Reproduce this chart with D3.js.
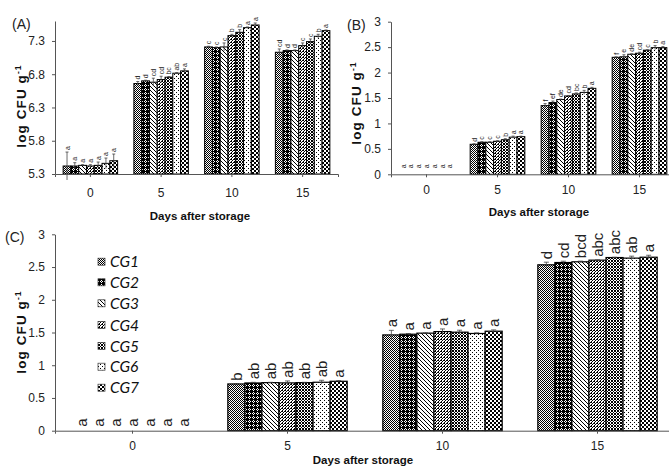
<!DOCTYPE html>
<html><head><meta charset="utf-8">
<script src="https://cdn.jsdelivr.net/npm/d3@7"></script>
<style>
body{margin:0;background:#fff;}
svg{display:block;font-family:"Liberation Sans",Arial,sans-serif;}
</style></head>
<body>
<svg id="chart" width="669" height="468"></svg>
<script>
const days = ["0","5","10","15"];
const groups = ["CG1","CG2","CG3","CG4","CG5","CG6","CG7"];

// Panel A values [day][group]
const valuesA = [
  [5.42,5.42,5.43,5.42,5.43,5.46,5.50],
  [6.66,6.70,6.68,6.72,6.755,6.815,6.85],
  [7.21,7.20,7.21,7.38,7.43,7.50,7.54],
  [7.13,7.155,7.155,7.23,7.29,7.37,7.455]
];
const errA = [
  [0.21,0.05,0.01,0.02,0.05,0.08,0.10],
  [0.03,0.01,0.06,0.05,0.01,0.01,0.03],
  [0.01,0.01,0.06,0.02,0.04,0.01,0.03],
  [0.05,0.01,0.01,0.04,0.04,0.03,0.01]
];
const lettersA = [
  ["a","a","a","a","a","a","a"],
  ["d","d","cd","cd","bc","ab","a"],
  ["c","c","c","b","b","a","a"],
  ["cd","d","d","c","c","b","a"]
];
const ticksA = [5.3,5.8,6.3,6.8,7.3];

// Panel B
const valuesB = [
  [0,0,0,0,0,0,0],
  [0.59,0.63,0.63,0.65,0.68,0.73,0.74],
  [1.35,1.41,1.47,1.54,1.58,1.61,1.69],
  [2.30,2.31,2.36,2.38,2.44,2.49,2.49]
];
const errB = [
  [0,0,0,0,0,0,0],
  [0.01,0.01,0.01,0.01,0.02,0.02,0.01],
  [0.04,0.03,0.01,0.01,0.02,0.04,0.02],
  [0.01,0.04,0.01,0.02,0.01,0.04,0.02]
];
const lettersB = [
  ["a","a","a","a","a","a","a"],
  ["d","c","c","c","b","a","a"],
  ["f","ef","de","cd","bc","b","a"],
  ["f","e","de","cd","c","b","a"]
];
const ticksB = [0,0.5,1,1.5,2,2.5,3];

// Panel C
const valuesC = [
  [0,0,0,0,0,0,0],
  [0.714,0.729,0.734,0.73,0.734,0.74,0.755],
  [1.463,1.474,1.49,1.514,1.505,1.485,1.52],
  [2.534,2.569,2.58,2.605,2.645,2.636,2.65]
];
const errC = [
  [0,0,0,0,0,0,0],
  [0.005,0.01,0.005,0.03,0.005,0.03,0.01],
  [0.07,0.01,0.005,0.04,0.03,0.01,0.02],
  [0.04,0.02,0.01,0.005,0.005,0.03,0.03]
];
const lettersC = [
  ["a","a","a","a","a","a","a"],
  ["b","ab","ab","ab","ab","ab","a"],
  ["a","a","a","a","a","a","a"],
  ["d","cd","bcd","abc","abc","ab","a"]
];
const ticksC = [0,0.5,1,1.5,2,2.5,3];

const xTitle = "Days after storage";

const svg = d3.select("#chart");
const defs = svg.append("defs");

function pat(id, w, h, draw){
  const p = defs.append("pattern").attr("id",id).attr("patternUnits","userSpaceOnUse")
    .attr("width",w).attr("height",h);
  p.append("rect").attr("width",w).attr("height",h).attr("fill","#fff");
  draw(p);
}
function px(p, x, y, w=1, h=1){ p.append("rect").attr("x",x).attr("y",y).attr("width",w).attr("height",h).attr("fill","#000"); }
// CG1 fine checker
pat("p0",2,2,p=>{px(p,0,0);px(p,1,1);});
// CG2 dark checker grid
pat("p1",4,4,p=>{px(p,0,0);px(p,2,0);px(p,1,1);px(p,0,2);px(p,2,2);px(p,1,3);px(p,3,0,1,4);px(p,0,3,4,1);});
// CG3 wide downward diagonal
pat("p2",4,4,p=>{px(p,0,0);px(p,1,1);px(p,2,2);px(p,3,3);});
// CG4 upward diagonal dense
pat("p3",3,3,p=>{px(p,2,0);px(p,1,1);px(p,0,2);px(p,0,0);});
// CG5 small grid
pat("p4",3,3,p=>{px(p,0,0);px(p,1,1);px(p,2,0);px(p,0,2);px(p,2,2,1,1);});
// CG6 sparse dots
pat("p5",4,4,p=>{px(p,0,0);px(p,2,2);});
// CG7 large confetti
pat("p6",4,4,p=>{px(p,0,0,2,2);px(p,2,2,2,2);});

function drawPanel(c){
  const g = svg.append("g");
  const x = d3.scaleBand().domain(days).range([c.x0,c.x1]).padding(0);
  const y = d3.scaleLinear().domain(c.domain).range([c.y0,c.y1]);
  const gw = x.bandwidth()*c.frac;
  const xi = d3.scaleBand().domain(groups).range([0,gw]).padding(0);

  days.forEach((d,di)=>{
    const gx = x(d) + (x.bandwidth()-gw)/2;
    groups.forEach((gr,gi)=>{
      const v = c.values[di][gi], e = c.errs[di][gi];
      const bx = gx + xi(gr), bw = xi.bandwidth();
      if (v > c.domain[0]) {
        g.append("rect").attr("x",bx).attr("y",y(v)).attr("width",bw).attr("height",y(c.domain[0])-y(v))
          .attr("fill",`url(#p${gi})`).attr("stroke","#000").attr("stroke-width",c.sw);
      }
      const cx = bx + bw/2;
      let top = y(v);
      if (e > 0) {
        const yt = y(v+e), yb = y(v-e);
        g.append("line").attr("x1",cx).attr("x2",cx).attr("y1",yb).attr("y2",yt).attr("stroke","#444").attr("stroke-width",0.8);
        g.append("line").attr("x1",cx-c.cap).attr("x2",cx+c.cap).attr("y1",yt).attr("y2",yt).attr("stroke","#444").attr("stroke-width",0.8);
        top = yt;
      }
      const ly = (v > c.domain[0]) ? top - c.gap : y(c.domain[0]) - c.gap0;
      g.append("text").attr("x",cx).attr("y",ly).attr("dy","0.36em")
        .attr("transform",`rotate(-90,${cx},${ly})`)
        .attr("font-size",c.lsize).attr("fill","#222").text(c.letters[di][gi]);
    });
  });

  const ya = g.append("g").attr("transform",`translate(${c.x0},0)`)
    .call(d3.axisLeft(y).tickValues(c.ticks).tickSize(3).tickSizeOuter(0).tickPadding(7).tickFormat(c.fmt));
  ya.selectAll("text").attr("font-size",12).attr("fill","#222").attr("font-family",null);
  ya.selectAll("line,path").attr("stroke","#555");
  const xa = g.append("g").attr("transform",`translate(0,${c.y0})`)
    .call(d3.axisBottom(x).tickSize(3).tickSizeOuter(3).tickPadding(c.xpad));
  xa.selectAll("text").attr("font-size",12).attr("fill","#222").attr("font-family",null);
  xa.selectAll("line,path").attr("stroke","#555");

  g.append("text").attr("x",c.tx).attr("y",c.ty).attr("font-size",14).attr("fill","#222").text(c.title);
  const yl = g.append("text").attr("transform",`translate(${c.ylx},${c.yly}) rotate(-90)`)
    .attr("text-anchor","middle").attr("font-size",13.5).attr("letter-spacing",1.1)
    .attr("font-weight","bold").attr("fill","#111");
  yl.append("tspan").text("log CFU g");
  yl.append("tspan").attr("font-size",8.5).attr("dy",-5.5).text("-1");
  g.append("text").attr("x",c.xlx).attr("y",c.xly).attr("text-anchor","middle")
    .attr("font-size",11.5).attr("font-weight","bold").attr("fill","#111").text(xTitle);
}

const fmt1 = d3.format(".1f");
const fmtG = d => String(d);

drawPanel({x0:55,x1:338,y0:174,y1:21,domain:[5.3,7.6],ticks:ticksA,fmt:fmt1,values:valuesA,errs:errA,letters:lettersA,
  frac:0.77,sw:1,cap:1.5,gap:2,gap0:3,lsize:7,xpad:11,title:"(A)",tx:12,ty:29,ylx:26,yly:106,xlx:200,xly:220});
drawPanel({x0:391,x1:675,y0:174.3,y1:21.7,domain:[0,3],ticks:ticksB,fmt:fmtG,values:valuesB,errs:errB,letters:lettersB,
  frac:0.77,sw:1,cap:1.5,gap:2,gap0:6,lsize:7,xpad:8,title:"(B)",tx:347,ty:30,ylx:361,yly:103,xlx:539,xly:216});
drawPanel({x0:55,x1:675,y0:430.7,y1:234.3,domain:[0,3],ticks:ticksC,fmt:fmtG,values:valuesC,errs:errC,letters:lettersC,
  frac:0.77,sw:1.2,cap:2.5,gap:3,gap0:4,lsize:15,xpad:8,title:"(C)",tx:5,ty:242,ylx:26,yly:332,xlx:363,xly:464});

// Legend
const lg = svg.append("g");
const legY = [261.7,282.3,303.3,325,346,366.7,387.7];
groups.forEach((gr,i)=>{
  lg.append("rect").attr("x",98).attr("y",legY[i]-3.5).attr("width",7).attr("height",7)
    .attr("fill",`url(#p${i})`).attr("stroke","#333").attr("stroke-width",0.7);
  lg.append("text").attr("x",110).attr("y",legY[i]).attr("dy","0.36em")
    .attr("font-family","Lato, 'Open Sans', sans-serif").attr("font-style","italic")
    .attr("font-size",15.5).attr("fill","#111").text(gr);
});
</script>
</body></html>
